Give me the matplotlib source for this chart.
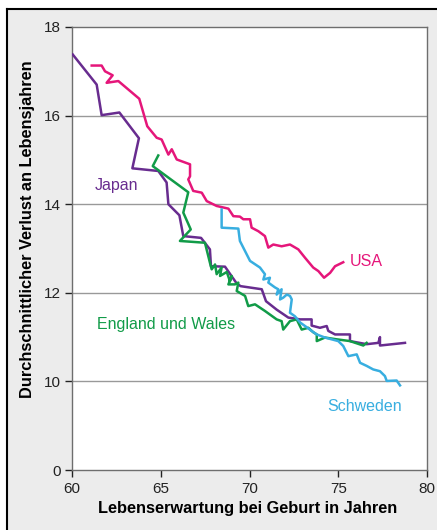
import matplotlib.pyplot as plt
from matplotlib.patches import Rectangle
from matplotlib.lines import Line2D

plt.rcParams['font.family'] = ['Liberation Sans', 'DejaVu Sans']

# Japan
japan_x = [60.04, 61.39, 61.67, 62.67, 63.77, 63.40, 64.86, 65.33, 65.43, 66.05,
           66.27, 67.27, 67.77, 67.83, 68.62, 69.28, 69.50, 70.69, 70.93, 71.53,
           72.19, 72.85, 73.50, 73.50, 73.97, 74.35, 74.44, 74.82, 75.66, 75.66,
           76.60, 77.26, 77.35, 77.35, 78.76]
japan_y = [17.38, 16.70, 16.01, 16.07, 15.49, 14.81, 14.75, 14.49, 14.00, 13.75,
           13.28, 13.24, 12.98, 12.60, 12.59, 12.21, 12.15, 12.08, 11.81, 11.62,
           11.44, 11.40, 11.40, 11.26, 11.21, 11.25, 11.14, 11.06, 11.06, 10.91,
           10.84, 10.87, 11.00, 10.81, 10.87]

# USA
usa_x = [61.11, 61.67, 61.86, 62.29, 61.95, 62.61, 63.79, 64.24, 64.77, 65.05,
         65.43, 65.62, 65.90, 66.65, 66.65, 66.55, 66.83, 67.31, 67.59, 68.15,
         68.81, 69.09, 69.46, 69.65, 70.03, 70.12, 70.50, 70.87, 71.06, 71.34,
         71.81, 72.28, 72.75, 73.13, 73.59, 73.88, 74.20, 74.54, 74.82, 75.28]
usa_y = [17.13, 17.13, 17.00, 16.91, 16.74, 16.78, 16.38, 15.76, 15.50, 15.46,
         15.12, 15.24, 15.01, 14.90, 14.63, 14.56, 14.30, 14.26, 14.07, 13.96,
         13.90, 13.73, 13.72, 13.66, 13.66, 13.47, 13.39, 13.28, 13.02, 13.09,
         13.05, 13.09, 12.98, 12.79, 12.57, 12.49, 12.34, 12.45, 12.60, 12.69]

# England und Wales
eng_x = [64.86, 64.55, 66.55, 66.27, 66.69, 66.08, 67.49, 67.77, 67.87, 68.06,
         68.15, 68.43, 68.34, 68.72, 68.90, 69.00, 68.81, 69.18, 69.37, 69.28,
         69.75, 69.93, 70.31, 70.87, 71.53, 71.81, 71.90, 72.28, 72.66, 72.94,
         73.31, 73.59, 73.79, 73.79, 74.25, 74.91, 75.66, 76.41, 76.60]
eng_y = [15.10, 14.86, 14.27, 13.81, 13.43, 13.17, 13.13, 12.68, 12.53, 12.64,
         12.42, 12.57, 12.38, 12.47, 12.26, 12.38, 12.19, 12.19, 12.23, 12.04,
         11.93, 11.70, 11.74, 11.59, 11.40, 11.36, 11.17, 11.36, 11.40, 11.17,
         11.21, 11.11, 11.06, 10.91, 10.99, 10.95, 10.91, 10.81, 10.87]

# Schweden
swe_x = [68.43, 68.43, 69.37, 69.46, 70.03, 70.59, 70.87, 70.78, 71.15, 71.06,
         71.44, 71.62, 71.53, 71.81, 71.72, 71.90, 72.10, 72.28, 72.38, 72.28,
         72.56, 72.85, 73.13, 73.50, 73.79, 74.25, 75.00, 75.28, 75.57, 76.04,
         76.23, 76.60, 76.97, 77.35, 77.63, 77.73, 78.29, 78.48]
swe_y = [13.88, 13.47, 13.45, 13.17, 12.72, 12.57, 12.42, 12.30, 12.34, 12.23,
         12.12, 12.08, 11.96, 12.08, 11.85, 11.89, 11.96, 11.93, 11.85, 11.55,
         11.47, 11.33, 11.25, 11.14, 11.06, 10.99, 10.91, 10.80, 10.57, 10.61,
         10.42, 10.35, 10.27, 10.23, 10.12, 10.01, 10.02, 9.91]

y_ticks = [0, 10, 12, 14, 16, 18]
x_ticks = [60, 65, 70, 75, 80]

# y axis is broken between 0 and 10: shift values >= 10 down by 8
def shift(vals):
    return [v - 8 for v in vals]

tick_pos = [0] + [t - 8 for t in y_ticks[1:]]

fig = plt.figure(figsize=(4.37, 5.30), dpi=100)
fig.patch.set_facecolor('white')
fig.patches.append(Rectangle((7 / 437, 0), 1, 1 - 9 / 530, transform=fig.transFigure,
                             facecolor='#ececec', edgecolor='none', zorder=-10))
fig.lines.append(Line2D([7 / 437, 7 / 437], [0, 1 - 9 / 530], transform=fig.transFigure,
                        color='black', lw=1.5, zorder=-5))
fig.lines.append(Line2D([7 / 437, 1], [1 - 9 / 530, 1 - 9 / 530], transform=fig.transFigure,
                        color='black', lw=1.5, zorder=-5))

ax = fig.add_axes([72 / 437, 60 / 530, 355 / 437, 443 / 530])
ax.set_facecolor('white')

ax.plot(japan_x, shift(japan_y), color='#682c8f', lw=1.8, zorder=3)
ax.plot(usa_x, shift(usa_y), color='#e5167a', lw=1.8, zorder=3)
ax.plot(eng_x, shift(eng_y), color='#119b48', lw=1.8, zorder=3)
ax.plot(swe_x, shift(swe_y), color='#38aee0', lw=1.8, zorder=3)

ax.set_xlim(60, 80)
ax.set_ylim(0, 10)
ax.set_xticks(x_ticks)
ax.set_yticks(tick_pos)
ax.set_yticklabels([str(t) for t in y_ticks])
ax.tick_params(labelsize=11, colors='#222222', length=5, width=1, direction='out')
ax.tick_params(axis='y', pad=3)
for g in tick_pos[1:-1]:
    ax.axhline(g, color='#999999', lw=1, zorder=1)
for s in ax.spines.values():
    s.set_color('#6e6e6e')
    s.set_linewidth(1)

ax.text(61.30, 14.42 - 8, 'Japan', color='#682c8f', fontsize=11.5, va='center')
ax.text(61.41, 11.29 - 8, 'England und Wales', color='#119b48', fontsize=11.5, va='center')
ax.text(75.66, 12.71 - 8, 'USA', color='#e5167a', fontsize=11.5, va='center')
ax.text(74.37, 9.44 - 8, 'Schweden', color='#38aee0', fontsize=11.5, va='center')

fig.text(28 / 437, 1 - 229 / 530, 'Durchschnittlicher Verlust an Lebensjahren',
         rotation=90, ha='center', va='center', fontsize=11.8, fontweight='bold')
fig.text(248 / 437, 1 - 508 / 530, 'Lebenserwartung bei Geburt in Jahren',
         ha='center', va='center', fontsize=11.8, fontweight='bold')

fig.savefig('out.png', dpi=100)
